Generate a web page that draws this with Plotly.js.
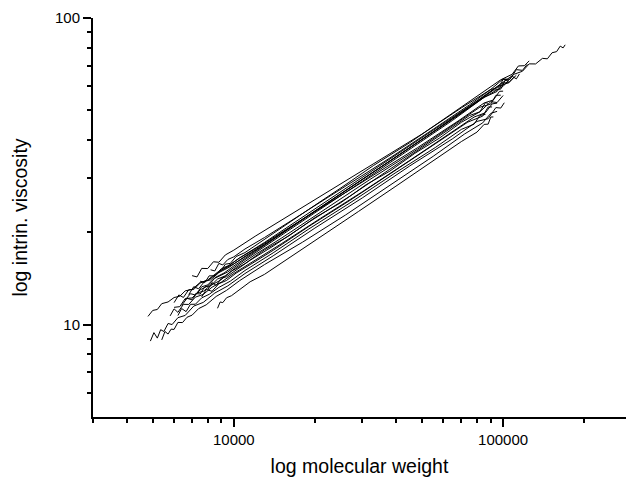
<!DOCTYPE html>
<html>
<head>
<meta charset="utf-8">
<script src="https://cdn.plot.ly/plotly-3.0.1.min.js"></script>
<style>html,body{margin:0;padding:0;background:#fff;overflow:hidden;}#chart{width:626px;height:477px;}</style>
</head>
<body>
<div id="chart"></div>
<script>
// Tick positions and labels
const xTickVals = [10000, 100000];
const xTickText = ["10000", "100000"];
const xMinorVals = [3000, 4000, 5000, 6000, 7000, 8000, 9000, 20000, 30000, 40000, 50000, 60000, 70000, 80000, 90000, 200000];
const yTickVals = [10, 100];
const yTickText = ["10", "100"];
const yMinorVals = [6, 7, 8, 9, 20, 30, 40, 50, 60, 70, 80, 90];

// Series: molecular weight (mw) and intrinsic viscosity (iv)
const mwB = [7000, 7300, 7600, 8000, 8400, 8800, 9300, 10000, 12000, 16000, 23000, 35000, 50000, 70000, 90000, 100000, 106000, 112000, 118000, 123000];
const ivB = [14.45, 14.31, 15.26, 15.24, 16.04, 15.98, 16.88, 17.50, 19.42, 22.66, 27.62, 34.54, 41.84, 50.93, 58.49, 63.31, 63.06, 67.87, 67.49, 70.71];

const mwA = [4800, 5000, 5200, 5400, 5700, 6000, 6300, 6600, 7000, 7500, 8000, 9000, 10000, 13000, 18000, 26000, 40000, 60000, 80000, 95000, 105000, 112000];
const ivA = [10.64, 11.13, 11.21, 11.71, 11.86, 12.26, 12.38, 12.89, 13.03, 13.74, 13.93, 15.04, 15.79, 18.20, 22.02, 27.28, 35.19, 44.76, 53.22, 59.64, 61.55, 65.08];

const mwL = [6600, 6900, 7200, 7600, 8000, 8500, 9200, 10000, 12000, 15000, 20000, 28000, 40000, 55000, 75000, 95000, 110000, 118000, 125000, 132000, 140000, 146000, 152000, 158000, 163000, 167000, 170000];
const ivL = [12.03, 12.62, 12.50, 13.29, 13.48, 14.23, 14.74, 15.54, 17.31, 19.76, 23.38, 28.46, 35.19, 42.57, 51.50, 59.64, 65.58, 67.04, 70.87, 70.82, 73.86, 73.61, 77.04, 77.68, 80.97, 79.89, 81.77];

const mwU4 = [6000, 6300, 6600, 7000, 7500, 8000, 8500, 9500, 11000, 14000, 20000, 30000, 45000, 65000, 85000, 95000, 100000, 105000, 110000];
const ivU4 = [11.39, 11.45, 12.17, 12.22, 12.99, 13.37, 14.17, 14.86, 16.29, 18.82, 23.16, 29.33, 37.29, 46.41, 55.10, 57.62, 61.41, 61.55, 64.40];

const mwU5 = [8200, 8500, 8800, 9100, 9500, 10000, 11000, 13000, 17000, 25000, 38000, 55000, 75000, 90000, 96000, 100000, 104000];
const ivU5 = [15.10, 14.97, 15.84, 15.66, 16.31, 16.64, 17.65, 19.24, 22.32, 27.67, 34.97, 43.37, 52.10, 58.49, 59.30, 63.01, 62.97];

const mwU6 = [7500, 7800, 8100, 8500, 9000, 9600, 10500, 12500, 16000, 22000, 32000, 48000, 68000, 85000, 92000, 97000, 100000];
const ivU6 = [13.86, 13.71, 14.43, 14.43, 15.25, 15.60, 16.50, 18.05, 20.68, 24.58, 30.16, 37.72, 46.11, 52.83, 54.03, 57.67, 57.73];

const mwU7 = [8000, 8300, 8600, 9000, 9400, 10000, 11500, 14000, 19000, 27000, 40000, 58000, 75000, 82000, 86000, 88000];
const ivU7 = [12.98, 13.71, 13.43, 14.20, 14.33, 14.90, 16.22, 18.04, 21.60, 26.25, 33.15, 41.14, 48.07, 49.44, 52.98, 52.69];

const mwM1 = [5800, 6000, 6200, 6500, 6800, 7200, 7700, 8300, 9000, 10000, 12000, 15000, 21000, 30000, 45000, 62000, 78000, 86000, 91000, 95000];
const ivM1 = [10.68, 11.26, 10.97, 11.65, 11.64, 12.30, 12.55, 13.25, 13.78, 14.69, 16.23, 18.35, 22.23, 27.12, 34.32, 41.39, 47.53, 49.11, 52.46, 52.78];

const mwC = [4900, 5050, 5200, 5350, 5500, 5700, 5900, 6200, 6600, 7100, 7700, 8500, 9500, 11000, 14000, 20000, 30000, 45000, 65000, 80000, 88000, 94000, 98000, 101000];
const ivC = [8.84, 9.42, 9.04, 9.63, 9.50, 10.09, 10.01, 10.54, 10.72, 11.50, 11.82, 12.68, 13.38, 14.68, 16.77, 20.65, 25.90, 32.93, 40.42, 46.01, 46.95, 51.04, 50.85, 52.93];

const mwD = [5400, 5550, 5700, 5850, 6000, 6200, 6450, 6700, 7000, 7400, 7900, 8600, 9400, 10500, 13000, 18000, 26000, 38000, 55000, 72000, 84000, 90000, 95000];
const ivD = [8.92, 9.50, 9.32, 9.67, 9.65, 10.17, 10.16, 10.57, 10.74, 11.28, 11.61, 12.36, 12.94, 13.91, 15.70, 18.58, 22.79, 28.44, 35.40, 41.88, 45.50, 48.88, 49.61];

const mwE = [8700, 8900, 9100, 9400, 9800, 10500, 11500, 13000, 16000, 21000, 29000, 40000, 55000, 70000, 80000, 85000, 88000, 90000, 92000];
const ivE = [11.31, 11.86, 11.80, 12.24, 12.43, 13.04, 13.80, 14.59, 16.51, 19.35, 23.38, 28.29, 34.13, 39.55, 42.46, 44.99, 45.07, 47.54, 47.58];

const mwL9 = [6200, 6400, 6650, 6900, 7200, 7600, 8100, 8800, 9700, 11000, 14000, 19000, 27000, 40000, 56000, 70000, 78000, 82000, 86000];
const ivL9 = [10.71, 11.29, 11.03, 11.65, 11.66, 12.23, 12.56, 13.23, 13.86, 15.02, 17.15, 20.52, 24.95, 31.35, 37.81, 43.33, 45.06, 48.11, 48.51];

const mwM2 = [6800, 7100, 7400, 7800, 8200, 8800, 9600, 11000, 14000, 20000, 30000, 45000, 65000, 85000, 100000, 108000, 112000, 115000];
const ivM2 = [12.53, 13.30, 13.09, 13.86, 14.00, 14.78, 15.38, 16.71, 19.07, 23.50, 29.73, 37.63, 46.83, 55.10, 59.86, 64.59, 63.31, 65.72];

const mwM3 = [7200, 7500, 7800, 8200, 8700, 9300, 10200, 12000, 15000, 21000, 32000, 48000, 66000, 82000, 90000, 94000, 98000];
const ivM3 = [12.64, 12.59, 13.29, 13.38, 14.09, 14.43, 15.36, 16.92, 19.13, 23.27, 29.73, 37.29, 44.90, 51.19, 52.40, 55.96, 56.01];

const mwM4 = [6000, 6250, 6500, 6800, 7100, 7500, 8000, 8700, 9500, 10500, 13000, 18000, 26000, 38000, 55000, 75000, 92000, 98000, 102000, 105000];
const ivM4 = [11.80, 12.50, 12.27, 13.00, 13.02, 13.67, 13.99, 14.82, 15.50, 16.50, 18.54, 22.44, 27.78, 34.66, 42.99, 51.50, 58.16, 58.65, 62.82, 62.16];

const mwM5 = [7600, 7900, 8300, 8800, 9400, 10200, 11500, 14000, 19000, 27000, 40000, 57000, 74000, 84000, 88000, 91000];
const ivM5 = [12.32, 13.02, 12.85, 13.60, 13.94, 14.73, 15.70, 17.48, 20.91, 25.43, 31.95, 39.28, 45.78, 47.87, 51.25, 51.28];

const mwN1 = [9000, 9300, 9700, 10200, 11000, 12500, 15000, 19000, 25000, 33000, 45000, 60000, 80000, 98000, 108000, 114000, 120000, 125000];
const ivN1 = [15.04, 15.75, 15.84, 16.68, 17.18, 18.56, 20.68, 23.79, 27.94, 33.03, 39.21, 46.66, 55.47, 62.87, 65.52, 69.77, 69.90, 72.49];

const mwN2 = [6400, 6700, 7000, 7300, 7700, 8200, 8900, 9800, 11000, 13000, 16000, 20000, 25000, 31000, 38000, 47000, 58000, 70000, 82000, 90000, 95000, 100000];
const ivN2 = [11.55, 12.19, 12.05, 12.70, 12.84, 13.43, 13.94, 14.94, 15.81, 17.54, 19.47, 22.33, 25.01, 28.61, 31.69, 36.19, 40.58, 45.70, 49.44, 53.35, 53.01, 55.89];

const series = [
  [mwB, ivB], [mwA, ivA], [mwL, ivL], [mwU4, ivU4], [mwU5, ivU5], [mwU6, ivU6],
  [mwU7, ivU7], [mwM1, ivM1], [mwC, ivC], [mwD, ivD], [mwE, ivE], [mwL9, ivL9],
  [mwM2, ivM2], [mwM3, ivM3], [mwM4, ivM4], [mwM5, ivM5], [mwN1, ivN1], [mwN2, ivN2]
];

const traces = series.map(s => ({
  x: s[0], y: s[1], type: "scatter", mode: "lines",
  line: {color: "#000", width: 1}, hoverinfo: "skip"
}));

const FONT = "Liberation Sans, Arial, Helvetica, sans-serif";

const layout = {
  width: 626, height: 477,
  margin: {l: 93, r: 0, t: 18, b: 60},
  paper_bgcolor: "#fff", plot_bgcolor: "#fff",
  showlegend: false,
  font: {family: FONT, color: "#000", size: 15},
  xaxis: {
    type: "log", range: [Math.log10(3000), Math.log10(286000)],
    tickmode: "array", tickvals: xTickVals, ticktext: xTickText,
    ticks: "outside", ticklen: 8, tickwidth: 2, tickcolor: "#000",
    showline: true, linewidth: 2, linecolor: "#000",
    showgrid: false, zeroline: false,
    tickfont: {family: FONT, size: 15, color: "#000"},
    minor: {tickmode: "array", tickvals: xMinorVals, ticks: "outside", ticklen: 4, tickwidth: 2, tickcolor: "#000", showgrid: false},
    title: {text: "log molecular weight", font: {family: FONT, size: 19.5, color: "#000"}, standoff: 19}
  },
  yaxis: {
    type: "log", range: [Math.log10(5), 2],
    tickmode: "array", tickvals: yTickVals, ticktext: yTickText,
    ticks: "outside", ticklen: 8, tickwidth: 2, tickcolor: "#000",
    showline: true, linewidth: 2, linecolor: "#000",
    showgrid: false, zeroline: false,
    tickfont: {family: FONT, size: 15, color: "#000"},
    minor: {tickmode: "array", tickvals: yMinorVals, ticks: "outside", ticklen: 4, tickwidth: 2, tickcolor: "#000", showgrid: false},
    title: {text: "log intrin. viscosity", font: {family: FONT, size: 19.5, color: "#000"}, standoff: 22}
  }
};

Plotly.newPlot("chart", traces, layout, {staticPlot: true, displayModeBar: false});
</script>
</body>
</html>
